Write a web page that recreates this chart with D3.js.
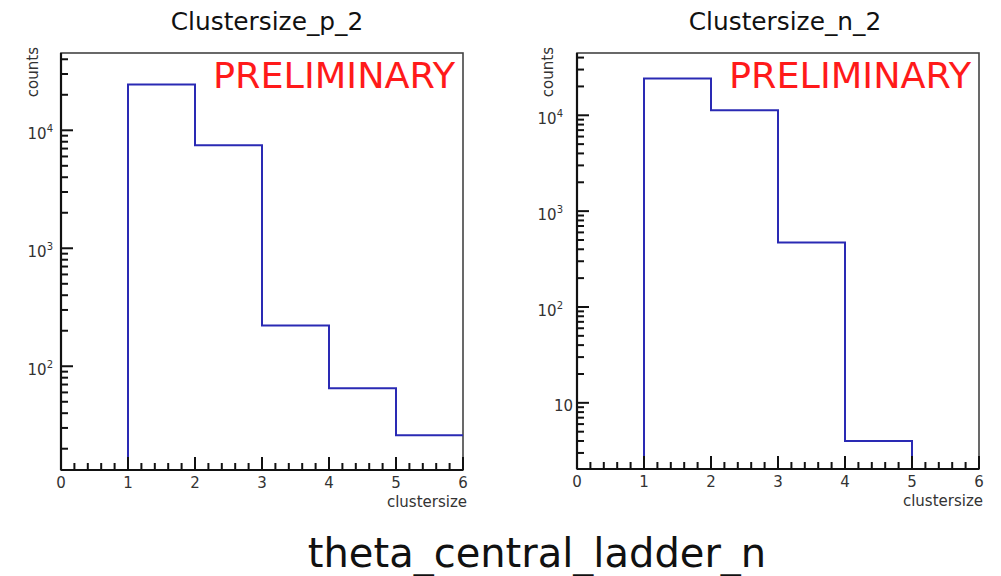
<!DOCTYPE html>
<html>
<head>
<meta charset="utf-8">
<script src="https://cdn.jsdelivr.net/npm/d3@7"></script>
<style>
  html, body { margin: 0; padding: 0; background: #fff; }
  svg { display: block; }
  text { font-family: "DejaVu Sans", sans-serif; }
</style>
</head>
<body>
<svg id="chart" width="1001" height="576"></svg>
<script>
// Bin edges shared by both histograms (cluster size)
const binEdges = [0, 1, 2, 3, 4, 5, 6];
// Counts per bin, p side and n side
const countsP = [0, 24400, 7470, 222, 65, 26];
const countsN = [0, 24200, 11300, 471, 4, 0];

const panelTitles = ["Clustersize_p_2", "Clustersize_n_2"];
const xTickLabels = ["0", "1", "2", "3", "4", "5", "6"];
const yDecadesP = [2, 3, 4];
const yDecadesN = [1, 2, 3, 4];
const yDomainP = [13.2, 45200];
const yDomainN = [2.04, 44650];
const pageTitle = "theta_central_ladder_n";

const svg = d3.select("#chart");

const panels = [
  { title: panelTitles[0], counts: countsP, decades: yDecadesP, domain: yDomainP,
    left: 61, right: 463, top: 53, bottom: 470, titleX: 267, gapPow: 8, countsX: 33 },
  { title: panelTitles[1], counts: countsN, decades: yDecadesN, domain: yDomainN,
    left: 577, right: 979, top: 53, bottom: 469, titleX: 785, gapPow: 14, countsX: 548 }
];

panels.forEach(p => {
  const g = svg.append("g");
  const x = d3.scaleLinear().domain([0, 6]).range([p.left, p.right]);
  const y = d3.scaleLog().domain(p.domain).range([p.bottom, p.top]);

  // frame
  g.append("rect")
    .attr("x", p.left).attr("y", p.top)
    .attr("width", p.right - p.left).attr("height", p.bottom - p.top)
    .attr("fill", "none").attr("stroke", "#444").attr("stroke-width", 1.6);

  // histogram outline
  const yv = v => v > p.domain[0] ? y(v) : p.bottom;
  let d = `M${x(binEdges[0])},${p.bottom}`;
  p.counts.forEach((v, i) => {
    d += `L${x(binEdges[i])},${yv(v)}L${x(binEdges[i + 1])},${yv(v)}`;
  });
  g.append("path").attr("d", d)
    .attr("fill", "none").attr("stroke", "#2a2ab4").attr("stroke-width", 2);

  // y axis line + ticks
  g.append("line").attr("x1", p.left).attr("x2", p.left)
    .attr("y1", p.top).attr("y2", p.bottom).attr("stroke", "#111").attr("stroke-width", 2.2);
  const minorY = [];
  for (let e = 0; e <= 5; e++) {
    for (let m = 1; m <= 9; m++) {
      const v = m * Math.pow(10, e);
      if (v >= p.domain[0] && v <= p.domain[1]) minorY.push({ v, major: m === 1 });
    }
  }
  g.selectAll(".ytick").data(minorY).enter().append("line")
    .attr("x1", p.left).attr("x2", t => p.left + (t.major ? 12 : 7))
    .attr("y1", t => y(t.v)).attr("y2", t => y(t.v))
    .attr("stroke", "#111").attr("stroke-width", 2);

  // y tick labels (powers of ten)
  p.decades.forEach(e => {
    const ty = y(Math.pow(10, e));
    if (e === 1) {
      g.append("text").attr("x", p.left - 4).attr("y", ty + 8.5)
        .attr("text-anchor", "end").attr("font-size", 15).attr("fill", "#333").text("10");
    } else {
      const t = g.append("text").attr("x", p.left - p.gapPow).attr("y", ty + 9)
        .attr("text-anchor", "end").attr("font-size", 15).attr("fill", "#333");
      t.append("tspan").text("10");
      t.append("tspan").attr("font-size", 10).attr("dy", -7).text(String(e));
    }
  });

  // x axis line + ticks
  g.append("line").attr("x1", p.left).attr("x2", p.right)
    .attr("y1", p.bottom).attr("y2", p.bottom).attr("stroke", "#111").attr("stroke-width", 2.2);
  const xt = d3.range(0, 31).map(i => ({ v: i / 5, major: i % 5 === 0 }));
  g.selectAll(".xtick").data(xt).enter().append("line")
    .attr("x1", t => x(t.v)).attr("x2", t => x(t.v))
    .attr("y1", p.bottom).attr("y2", t => p.bottom - (t.major ? 13 : 7))
    .attr("stroke", "#111").attr("stroke-width", 2);
  g.selectAll(".xlab").data(xTickLabels).enter().append("text")
    .attr("x", (s, i) => x(i)).attr("y", p.bottom + 18)
    .attr("text-anchor", "middle").attr("font-size", 15).attr("fill", "#333").text(s => s);

  // axis titles
  g.append("text").attr("x", p.right + 4).attr("y", p.bottom + 37)
    .attr("text-anchor", "end").attr("font-size", 15).attr("fill", "#333").text("clustersize");
  g.append("text")
    .attr("transform", `translate(${p.countsX + 5},${p.top - 6}) rotate(-90)`)
    .attr("text-anchor", "end").attr("font-size", 15).attr("fill", "#333").text("counts");

  // panel title
  g.append("text").attr("x", p.titleX).attr("y", 30)
    .attr("text-anchor", "middle").attr("font-size", 24.8).attr("fill", "#111").text(p.title);

  // preliminary stamp
  g.append("text").attr("x", p.right - 8).attr("y", 88)
    .attr("text-anchor", "end").attr("font-size", 35)
    .attr("textLength", 242).attr("lengthAdjust", "spacingAndGlyphs")
    .attr("font-family", "'Liberation Sans', Arial, sans-serif")
    .attr("fill", "#ff1a1a").text("PRELIMINARY");
});

svg.append("text").attr("x", 537).attr("y", 567)
  .attr("text-anchor", "middle").attr("font-size", 40).attr("fill", "#111").text(pageTitle);
</script>
</body>
</html>
